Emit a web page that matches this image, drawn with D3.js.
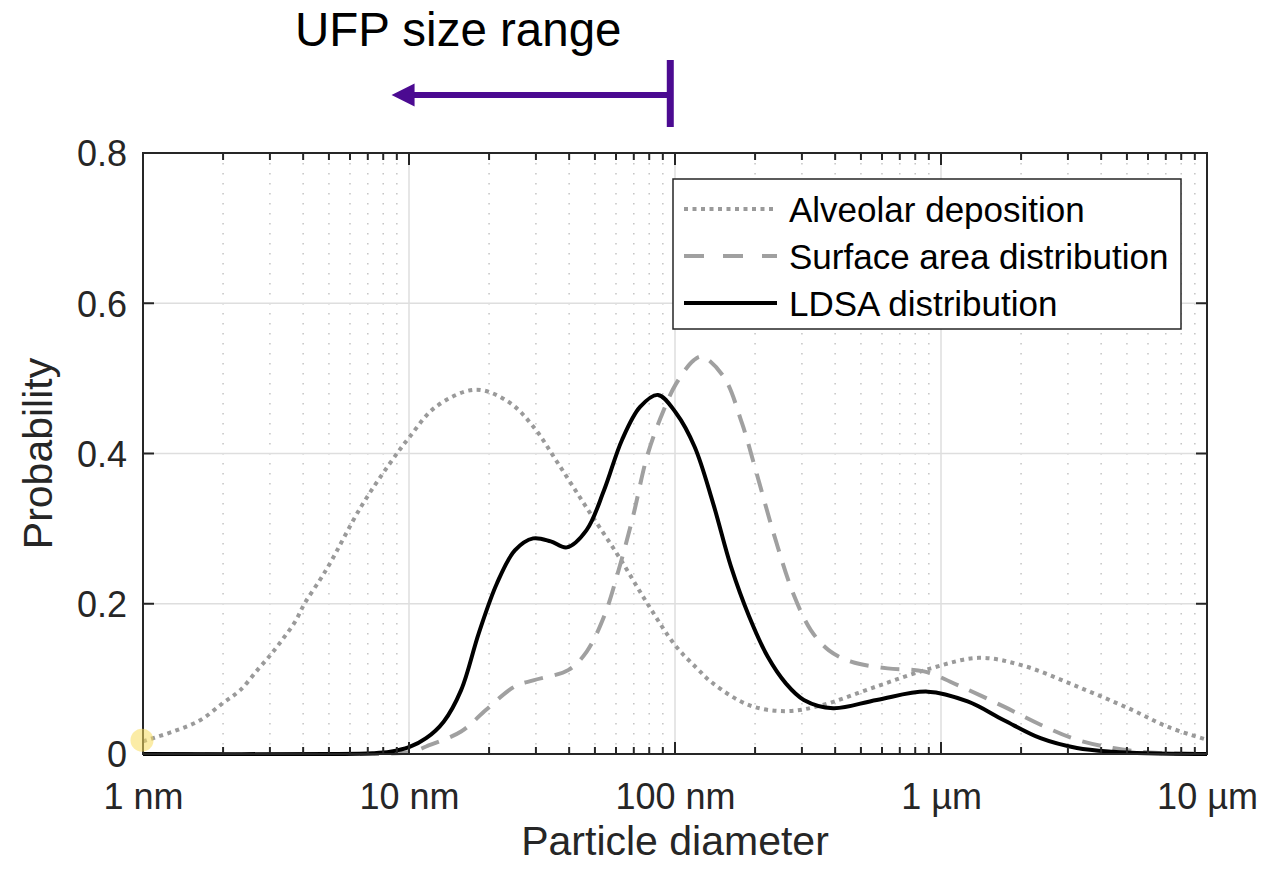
<!DOCTYPE html>
<html>
<head>
<meta charset="utf-8">
<script src="https://cdn.jsdelivr.net/npm/d3@7"></script>
<style>
  html, body { margin: 0; padding: 0; background: #fff; }
  svg { display: block; font-family: "Liberation Sans", Arial, Helvetica, sans-serif; }
</style>
</head>
<body>
<svg id="chart" width="1288" height="872"></svg>
<script>
// ---------- data (diameter in nm, probability) ----------
const alveolarD = [1, 1.30, 1.64, 2.0, 2.32, 2.71, 3.05, 3.37, 3.73, 4.06, 4.63, 5.05, 6.6, 8.48, 10.05, 12.6, 17.8, 23.6, 29.3, 36.3, 46.3, 61.4, 78.5, 100, 121, 139, 190, 261, 357, 573, 916, 1386, 2017, 3243, 5206, 7134, 10000];
const alveolarP = [0.017, 0.030, 0.045, 0.068, 0.085, 0.113, 0.134, 0.154, 0.176, 0.201, 0.232, 0.254, 0.329, 0.387, 0.422, 0.462, 0.485, 0.469, 0.436, 0.387, 0.329, 0.263, 0.201, 0.145, 0.114, 0.094, 0.065, 0.057, 0.065, 0.090, 0.114, 0.128, 0.118, 0.090, 0.059, 0.036, 0.019];

const surfaceD = [1, 8, 10.5, 11.6, 15.7, 19.5, 25, 29.3, 39.8, 46.5, 54.1, 61.4, 69.5, 78.5, 88.6, 100.6, 117.5, 126.4, 152.5, 178.7, 202.5, 237, 278, 324, 379, 459, 630, 863, 1184, 1725, 2367, 3243, 4432, 6053, 10000];
const surfaceP = [0, 0, 0.004, 0.010, 0.030, 0.059, 0.090, 0.098, 0.112, 0.136, 0.183, 0.245, 0.316, 0.396, 0.449, 0.492, 0.524, 0.529, 0.502, 0.440, 0.374, 0.289, 0.214, 0.165, 0.138, 0.123, 0.114, 0.110, 0.090, 0.063, 0.039, 0.019, 0.008, 0.002, 0];

const ldsaD = [1, 5, 7.3, 8.5, 10, 11.6, 13.5, 15.7, 18.3, 21.4, 25, 29.3, 34.1, 39.2, 46.5, 54.1, 63.2, 73.9, 86.3, 100.9, 118.5, 139, 162.5, 190, 222.7, 261, 305, 393, 573, 891, 1259, 1725, 2367, 3243, 4432, 6000, 10000];
const ldsaP = [0, 0, 0.001, 0.003, 0.009, 0.021, 0.043, 0.085, 0.161, 0.227, 0.271, 0.287, 0.283, 0.275, 0.298, 0.351, 0.418, 0.462, 0.478, 0.454, 0.409, 0.334, 0.249, 0.183, 0.130, 0.094, 0.072, 0.061, 0.072, 0.083, 0.070, 0.045, 0.021, 0.008, 0.003, 0.001, 0];

const seriesNames = ["Alveolar deposition", "Surface area distribution", "LDSA distribution"];
const xTickValues = [1, 10, 100, 1000, 10000];
const xTickLabels = ["1 nm", "10 nm", "100 nm", "1 µm", "10 µm"];
const yTickValues = [0, 0.2, 0.4, 0.6, 0.8];
const yTickLabels = ["0", "0.2", "0.4", "0.6", "0.8"];
const ufpRange = [8.6, 96];   // nm, arrow tip -> bar
const titleText = "UFP size range";
const xLabel = "Particle diameter";
const yLabel = "Probability";

// ---------- layout ----------
const svg = d3.select("#chart");
const L = 143, R = 1207, T = 153, B = 754;
const x = d3.scaleLog().domain([1, 10000]).range([L, R]);
const y = d3.scaleLinear().domain([0, 0.8]).range([B, T]);
const axisColor = "#262626";

const minorVals = [];
for (let dec = 1; dec < 10000; dec *= 10) for (let k = 2; k <= 9; k++) minorVals.push(dec * k);

// grid
const grid = svg.append("g");
grid.selectAll(".gmin").data(minorVals).join("line")
  .attr("x1", d => x(d)).attr("x2", d => x(d)).attr("y1", T).attr("y2", B)
  .attr("stroke", "#c4c4c4").attr("stroke-width", 1.5).attr("stroke-dasharray", "1.5,8.5");
grid.selectAll(".gxmaj").data(xTickValues.slice(1, -1)).join("line")
  .attr("x1", d => x(d)).attr("x2", d => x(d)).attr("y1", T).attr("y2", B)
  .attr("stroke", "#dedede").attr("stroke-width", 1.5);
grid.selectAll(".gymaj").data(yTickValues.slice(1, -1)).join("line")
  .attr("x1", L).attr("x2", R).attr("y1", d => y(d)).attr("y2", d => y(d))
  .attr("stroke", "#dedede").attr("stroke-width", 1.5);

// curves
const line = d3.line().x(d => x(d[0])).y(d => Math.min(y(d[1]), B)).curve(d3.curveCatmullRom.alpha(0.5));
const styles = [
  { stroke: "#9a9a9a", width: 4, dash: "4,4.5" },
  { stroke: "#a0a0a0", width: 4, dash: "19,12" },
  { stroke: "#000000", width: 4, dash: null }
];
const series = [
  d3.zip(alveolarD, alveolarP),
  d3.zip(surfaceD, surfaceP),
  d3.zip(ldsaD, ldsaP)
];
const clip = svg.append("clipPath").attr("id", "plotclip");
clip.append("rect").attr("x", L).attr("y", T - 5).attr("width", R - L).attr("height", B - T + 7);
series.forEach((s, i) => {
  svg.append("path").datum(s).attr("d", line)
    .attr("clip-path", "url(#plotclip)")
    .attr("fill", "none").attr("stroke", styles[i].stroke)
    .attr("stroke-width", styles[i].width)
    .attr("stroke-dasharray", styles[i].dash)
    .attr("stroke-linejoin", "round");
});

// axes (box)
const ax = svg.append("g");
const bottomAxis = d3.axisBottom(x).tickValues(xTickValues).tickFormat((d, i) => xTickLabels[i]).tickSize(0).tickPadding(0);
const gxb = ax.append("g").attr("transform", `translate(0,${B})`).call(bottomAxis);
gxb.select(".domain").remove();
gxb.selectAll("text").attr("font-size", 36).attr("fill", axisColor).attr("dy", 0).attr("y", 55)
  .attr("font-family", "Liberation Sans, Arial, sans-serif");

const leftAxis = d3.axisLeft(y).tickValues(yTickValues).tickFormat((d, i) => yTickLabels[i]).tickSize(0).tickPadding(0);
const gyl = ax.append("g").attr("transform", `translate(${L},0)`).call(leftAxis);
gyl.select(".domain").remove();
gyl.selectAll("text").attr("font-size", 36).attr("fill", axisColor).attr("x", -16).attr("dy", "0.36em")
  .attr("font-family", "Liberation Sans, Arial, sans-serif");

// tick marks (inward) on all four sides
const tk = ax.append("g").attr("stroke", axisColor).attr("stroke-width", 2);
tk.selectAll(".xmb").data(xTickValues).join("line")
  .attr("x1", d => x(d)).attr("x2", d => x(d)).attr("y1", B).attr("y2", B - 12);
tk.selectAll(".xmt").data(xTickValues).join("line")
  .attr("x1", d => x(d)).attr("x2", d => x(d)).attr("y1", T).attr("y2", T + 12);
tk.selectAll(".xnb").data(minorVals).join("line")
  .attr("x1", d => x(d)).attr("x2", d => x(d)).attr("y1", B).attr("y2", B - 7);
tk.selectAll(".xnt").data(minorVals).join("line")
  .attr("x1", d => x(d)).attr("x2", d => x(d)).attr("y1", T).attr("y2", T + 7);
tk.selectAll(".yl").data(yTickValues).join("line")
  .attr("x1", L).attr("x2", L + 11).attr("y1", d => y(d)).attr("y2", d => y(d));
tk.selectAll(".yr").data(yTickValues).join("line")
  .attr("x1", R).attr("x2", R - 11).attr("y1", d => y(d)).attr("y2", d => y(d));
ax.append("rect").attr("x", L).attr("y", T).attr("width", R - L).attr("height", B - T)
  .attr("fill", "none").attr("stroke", axisColor).attr("stroke-width", 2);

// axis labels
svg.append("text").attr("x", (L + R) / 2).attr("y", 855).attr("text-anchor", "middle")
  .attr("font-size", 41).attr("fill", axisColor).text(xLabel);
svg.append("text").attr("transform", `translate(52,${(T + B) / 2}) rotate(-90)`).attr("text-anchor", "middle")
  .attr("font-size", 41).attr("fill", axisColor).text(yLabel);

// legend
const lg = svg.append("g");
lg.append("rect").attr("x", 673).attr("y", 179).attr("width", 508).attr("height", 150)
  .attr("fill", "#fff").attr("stroke", axisColor).attr("stroke-width", 1.5);
seriesNames.forEach((name, i) => {
  const cy = 209 + i * 47;
  lg.append("line").attr("x1", 684).attr("x2", 777).attr("y1", cy).attr("y2", cy)
    .attr("stroke", styles[i].stroke).attr("stroke-width", styles[i].width)
    .attr("stroke-dasharray", i === 1 ? "20,19" : styles[i].dash);
  lg.append("text").attr("x", 789).attr("y", cy).attr("dy", "0.36em")
    .attr("font-size", 35).attr("fill", "#000").text(name);
});

// UFP annotation
const purple = "#4b0a91";
const ay = 95;
svg.append("text").attr("x", 295).attr("y", 46).attr("font-size", 47.5).attr("fill", "#000").text(titleText);
svg.append("line").attr("x1", x(ufpRange[0]) + 18).attr("x2", x(ufpRange[1])).attr("y1", ay).attr("y2", ay)
  .attr("stroke", purple).attr("stroke-width", 6);
svg.append("path")
  .attr("d", `M${x(ufpRange[0])},${ay} L${x(ufpRange[0]) + 23},${ay - 11.5} L${x(ufpRange[0]) + 23},${ay + 11.5} Z`)
  .attr("fill", purple);
svg.append("line").attr("x1", x(ufpRange[1])).attr("x2", x(ufpRange[1])).attr("y1", 60).attr("y2", 127)
  .attr("stroke", purple).attr("stroke-width", 7);

// yellow highlight at first point
svg.append("circle").attr("cx", x(alveolarD[0]) - 1).attr("cy", y(alveolarP[0]) - 1).attr("r", 11.5)
  .attr("fill", "#f7dc5c").attr("fill-opacity", 0.55);
</script>
</body>
</html>
